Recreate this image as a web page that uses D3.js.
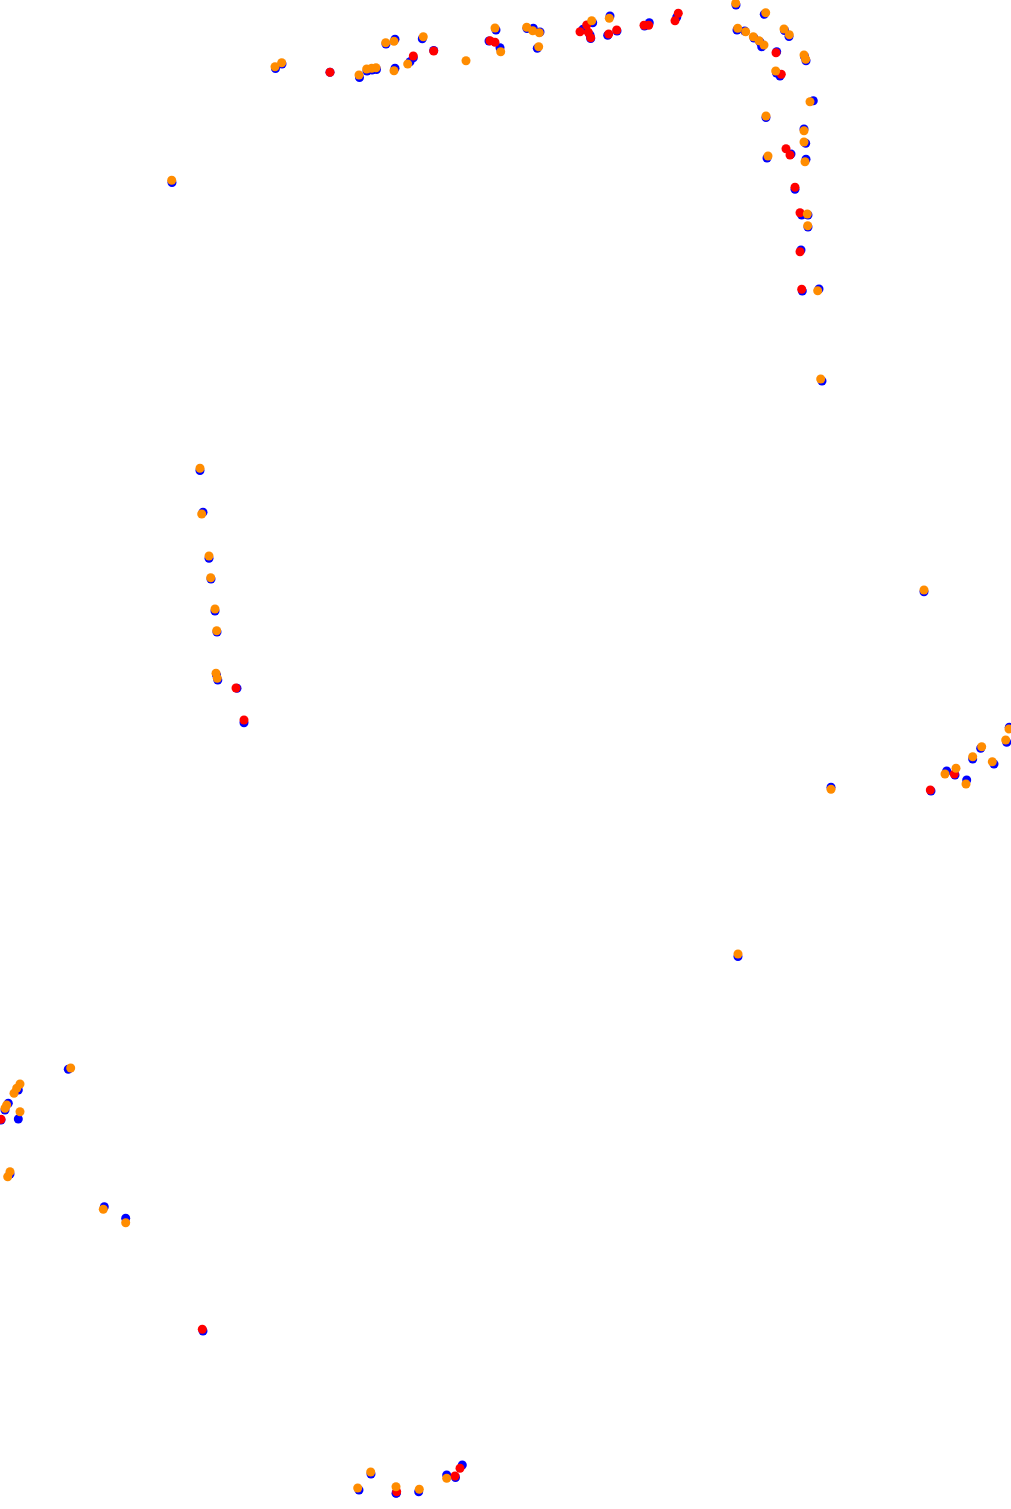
<!DOCTYPE html>
<html lang="en">
<head>
<meta charset="UTF-8">
<title>Scatter</title>
<script src="https://d3js.org/d3.v7.min.js"></script>
<style>
  body { margin: 0; background: #fff; }
  svg { display: block; }
</style>
</head>
<body>
<div id="chart"></div>
<script>
// point positions per series, [x, y] in data units
const bluePoints = [
  [275.5,68.5],[282,64],[359.5,77.5],[367,71],[372,70],[376.5,69.5],[386,44],[395,39.3],[395,68.3],
  [410,61.7],[422.3,38.7],[496,30],[500,47.7],[527,28.5],[533.3,28.3],[540,32],[537.3,48.3],
  [592.7,22.7],[610,16],[736,5],[764.3,14.3],[737,30],[744.7,31],[754,38],[760,42],[761.7,46.7],
  [784.5,30.5],[789,36.5],[804.5,56.5],[806,60.7],[776.5,73],[813.3,100.7],[766,117.5],[804,129],
  [805.7,143.3],[767,158],[806,159.3],[808,215],[808,227],[819,289],[822,381],[172,182.5],
  [200,470.5],[203,512.3],[209,558.3],[211,579],[215,611],[217,632],[216.5,675],[217.8,680],
  [924,591.7],[831,787.3],[946.7,771],[955,775],[966.7,780],[972.7,759],[980.7,748.3],[994,764],
  [1006.7,742.3],[1009.3,727.3],[738,956.5],[68.3,1069.3],[18.3,1090],[8.3,1103.3],[5,1110],
  [18.3,1119],[10,1174],[104.3,1206.7],[125.7,1218.3],[371,1474],[359,1490],[396,1493.3],
  [418.7,1491.7],[446.7,1475],[330,72.3],[413.3,57.7],[433.7,50.5],[489,41],[583,29.3],[590,35],
  [590.7,38.5],[607.7,35.3],[617,31],[644.5,26],[649.3,22.7],[676.7,17.3],[776.7,51.7],[780,76],
  [791,154],[795,189.3],[801.7,215],[801,250],[802.3,291],[237,688.3],[244,722.7],[931,791],
  [1,1120],[203,1331],[396.5,1493],[462.3,1465],[455.5,1477.5]
];

const redPoints = [
  [330,72.3],[413.3,56],[433.7,51],[490,40.7],[495,42.3],[586.7,25],[580,31.7],[588.3,32.3],
  [590.7,37.7],[608.7,34],[616.7,30],[644,25.3],[648.7,25.3],[678.3,13.3],[675,20.7],[776,52.7],
  [781.3,74.3],[786,148.7],[790,155],[795,187.3],[800,212.7],[800,251.7],[801.7,289.3],[236,688],
  [244,720],[930.3,790],[954.3,774],[1,1119.3],[202.3,1329.3],[396.7,1491.7],[455,1476],[460,1468.3]
];

const orangePoints = [
  [275,66.7],[281.7,62.7],[359,75],[366.7,69],[371.7,68.3],[376,67.7],[385.7,42.7],[394,41.3],
  [394,70.7],[407.7,64],[423.3,36.7],[466,60.7],[495,28],[500.7,51.7],[526.7,27.3],[532.7,30.7],
  [539.3,32.7],[538.7,46.7],[591.7,20.7],[609.3,18.3],[735.7,3.3],[765.7,12.7],[737.7,28.3],
  [745.7,31.7],[753.3,36.7],[759,40.7],[764,45],[784,29],[789.3,34.7],[804,55],[805.7,59.3],
  [775.7,71],[810,101.7],[766,116],[804,130.7],[804,142],[768,156],[805,161.7],[807.3,214],
  [807.7,225.7],[817.7,290.7],[820.7,379],[171.7,180.3],[200,468.3],[201.7,514],[209,556],
  [210.7,577.7],[215,609],[216.7,630.7],[216,673.3],[217.3,678.3],[924,590],[831,789.3],[945,774],
  [956,768.3],[966,784],[972.7,756.7],[981.7,746.7],[992.3,761.7],[1005.7,740],[1009,729],
  [738,954],[70.7,1068],[20,1084],[16.7,1088.3],[14,1093.3],[6.7,1105],[5,1108.3],[20,1111.7],
  [10,1171.7],[7.7,1176.7],[103.3,1209.3],[125.7,1222.7],[370.7,1472],[357.7,1488],[396,1486.7],
  [419.3,1489.3],[446.7,1478.3]
];

const width = 1011;
const height = 1509;

const svg = d3.select("#chart")
  .append("svg")
  .attr("width", width)
  .attr("height", height);

const x = d3.scaleLinear().domain([0, 1011]).range([0, width]);
const y = d3.scaleLinear().domain([0, 1509]).range([0, height]);

// blue underneath, then red, then orange on top
const series = [
  { name: "blue", color: "#0000ff", points: bluePoints },
  { name: "red", color: "#ff0000", points: redPoints },
  { name: "orange", color: "#ff8c00", points: orangePoints }
];

series.forEach(s => {
  svg.append("g")
    .attr("class", s.name)
    .selectAll("circle")
    .data(s.points)
    .enter()
    .append("circle")
    .attr("cx", d => x(d[0]))
    .attr("cy", d => y(d[1]))
    .attr("r", 4.5)
    .attr("fill", s.color);
});
</script>
</body>
</html>
